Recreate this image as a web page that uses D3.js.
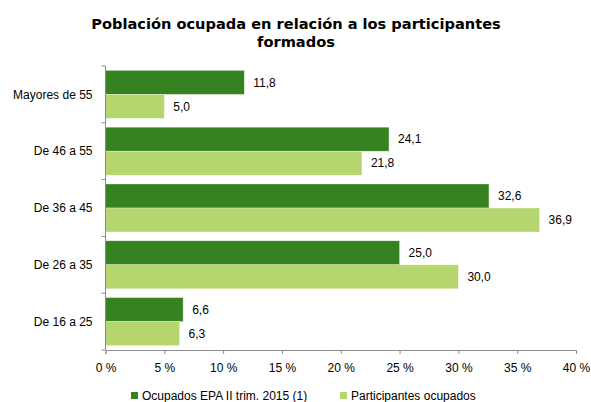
<!DOCTYPE html>
<html>
<head>
<meta charset="utf-8">
<script src="https://cdn.jsdelivr.net/npm/d3@7"></script>
<style>
  html, body { margin: 0; padding: 0; background: #fff; overflow: hidden; }
  svg { display: block; }
</style>
</head>
<body>
<div id="plot"></div>
<script>
// Data
const categories = ["Mayores de 55", "De 46 a 55", "De 36 a 45", "De 26 a 35", "De 16 a 25"];
const ocupadosEPA = [11.8, 24.1, 32.6, 25.0, 6.6];
const participantes = [5.0, 21.8, 36.9, 30.0, 6.3];
const seriesNames = ["Ocupados EPA II trim. 2015 (1)", "Participantes ocupados"];
const xTicks = [0, 5, 10, 15, 20, 25, 30, 35, 40];

// Parameters
const svg_w = 591;
const svg_h = 402;
const margin = {top: 66, right: 15, bottom: 52, left: 105.5};
const innerWidth = svg_w - margin.left - margin.right;
const innerHeight = svg_h - margin.top - margin.bottom;
const colors = ["#378220", "#b5d66f"];
const axisColor = "#8c8c8c";
const labelFont = "'Liberation Sans', Arial, sans-serif";

const svg = d3.select("div#plot")
  .append("svg")
    .attr("width", svg_w)
    .attr("height", svg_h);

// Title
const title = svg.append("text")
    .attr("text-anchor", "middle")
    .style("font-family", "'DejaVu Sans', Verdana, sans-serif")
    .style("font-size", "14.6px")
    .style("font-weight", "bold")
    .attr("fill", "#000");
title.append("tspan").attr("x", 296).attr("y", 28.5).text("Población ocupada en relación a los participantes");
title.append("tspan").attr("x", 296).attr("y", 47).text("formados");

const xScale = d3.scaleLinear().domain([0, 40]).range([0, innerWidth]);
const yScale = d3.scaleBand().domain(categories).range([0, innerHeight])
    .paddingInner(0.155).paddingOuter(0.0775);
const subScale = d3.scaleBand().domain([0, 1]).range([0, yScale.bandwidth()]);

const g = svg.append("g")
    .attr("transform", `translate(${margin.left}, ${margin.top})`);

const rows = categories.map((c, i) => ({cat: c, vals: [ocupadosEPA[i], participantes[i]]}));

const groups = g.selectAll("g.row")
  .data(rows)
  .join("g")
    .attr("class", "row")
    .attr("transform", d => `translate(0, ${yScale(d.cat)})`);

groups.selectAll("rect")
  .data(d => d.vals.map((v, k) => ({v: v, k: k})))
  .join("rect")
    .attr("x", xScale(0))
    .attr("y", d => subScale(d.k))
    .attr("width", d => xScale(d.v))
    .attr("height", subScale.bandwidth())
    .attr("fill", d => colors[d.k])
    .attr("stroke", "#ffffff")
    .attr("stroke-opacity", 0.5)
    .attr("stroke-width", 0.6);

groups.selectAll("text")
  .data(d => d.vals.map((v, k) => ({v: v, k: k})))
  .join("text")
    .attr("x", d => xScale(d.v) + 9)
    .attr("y", d => subScale(d.k) + subScale.bandwidth() / 2)
    .attr("dy", "0.35em")
    .style("font-family", labelFont)
    .style("font-size", "12px")
    .attr("fill", "#000")
    .text(d => d3.format(".1f")(d.v).replace(".", ","));

// X axis
const xAxis = d3.axisBottom(xScale)
    .tickValues(xTicks)
    .tickSize(4)
    .tickSizeOuter(4)
    .tickPadding(9)
    .tickFormat(d => d + " %");

const gx = svg.append("g")
    .attr("transform", `translate(${margin.left}, ${margin.top + innerHeight})`)
    .call(xAxis);
gx.select(".domain").attr("stroke", axisColor);
gx.selectAll(".tick line").attr("stroke", axisColor);
gx.selectAll(".tick text")
    .style("font-family", labelFont)
    .style("font-size", "12px")
    .attr("fill", "#000");

// Y axis: ticks at category boundaries, labels centered
const gy = svg.append("g")
    .attr("transform", `translate(${margin.left}, ${margin.top})`);
gy.append("line")
    .attr("x1", 0).attr("x2", 0)
    .attr("y1", 0).attr("y2", innerHeight)
    .attr("stroke", axisColor);
const step = yScale.step();
gy.selectAll("line.tk")
  .data(d3.range(categories.length + 1))
  .join("line")
    .attr("class", "tk")
    .attr("x1", -4).attr("x2", 0)
    .attr("y1", i => yScale(categories[0]) - yScale.paddingOuter() * step + i * step)
    .attr("y2", i => yScale(categories[0]) - yScale.paddingOuter() * step + i * step)
    .attr("stroke", axisColor);
gy.selectAll("text")
  .data(categories)
  .join("text")
    .attr("x", -13)
    .attr("y", d => yScale(d) + yScale.bandwidth() / 2)
    .attr("dy", "0.35em")
    .attr("text-anchor", "end")
    .style("font-family", labelFont)
    .style("font-size", "12px")
    .attr("fill", "#000")
    .text(d => d);

// Legend
const legendX = [131, 340];
const legend = svg.append("g");
legend.selectAll("rect")
  .data(seriesNames)
  .join("rect")
    .attr("x", (d, i) => legendX[i])
    .attr("y", 392)
    .attr("width", 7)
    .attr("height", 7)
    .attr("fill", (d, i) => colors[i]);
legend.selectAll("text")
  .data(seriesNames)
  .join("text")
    .attr("x", (d, i) => legendX[i] + 11)
    .attr("y", 395.5)
    .attr("dy", "0.35em")
    .style("font-family", labelFont)
    .style("font-size", "12px")
    .attr("fill", "#000")
    .text(d => d);
</script>
</body>
</html>
